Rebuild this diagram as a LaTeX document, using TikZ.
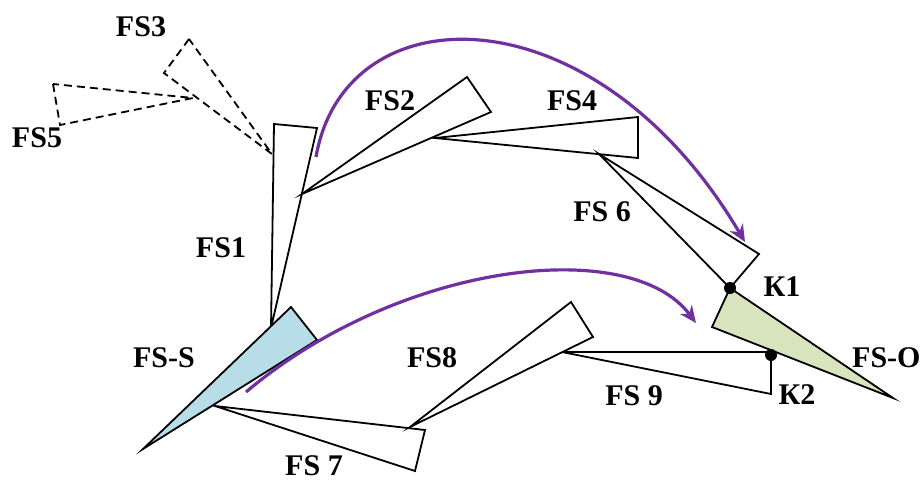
\documentclass[tikz,border=0pt]{standalone}
\usepackage{fontspec}
\setmainfont{Liberation Serif}
\usetikzlibrary{arrows.meta}
\definecolor{arrowpurple}{HTML}{7030A0}
\definecolor{sfill}{HTML}{B7DDE8}
\definecolor{ofill}{HTML}{D7E4BD}
\tikzset{
  fsline/.style={draw=black, line width=1.8pt, line join=miter},
  fsdash/.style={draw=black, line width=1.8pt, dash pattern=on 8pt off 5pt},
  lbl/.style={inner sep=0pt, font=\bfseries\fontsize{30}{36}\selectfont},
  flow/.style={draw=arrowpurple, line width=3.2pt, -{Stealth[length=17pt,width=15pt]}},
  kdot/.style={circle, fill=black, inner sep=0pt, minimum size=12pt}
}
\begin{document}
\begin{tikzpicture}[x=1pt,y=-1pt]
\useasboundingbox (0,0) rectangle (921,482);
% coordinates
\coordinate (s3a) at (189,39); \coordinate (s3b) at (164,73); \coordinate (s3t) at (272,154);
\coordinate (s5a) at (53,84); \coordinate (s5b) at (60,125); \coordinate (s5t) at (193,98);
\coordinate (s1a) at (274,124); \coordinate (s1b) at (317,128); \coordinate (s1t) at (271,328);
\coordinate (s2t) at (302,194); \coordinate (s2a) at (467,77); \coordinate (s2b) at (491,112);
\coordinate (s4t) at (435,138); \coordinate (s4a) at (638,117); \coordinate (s4b) at (638,158);
\coordinate (s6t) at (599,154); \coordinate (s6a) at (759,254); \coordinate (k1) at (730,288);
\coordinate (sob) at (712,327); \coordinate (sot) at (893,398);
\coordinate (s9t) at (562,352); \coordinate (s9a) at (771,352); \coordinate (s9b) at (771,394);
\coordinate (k2) at (771,355);
\coordinate (s8t) at (410,427); \coordinate (s8a) at (571,302); \coordinate (s8b) at (593,337);
\coordinate (s7t) at (215,406); \coordinate (s7a) at (425,430); \coordinate (s7b) at (415,471);
\coordinate (sst) at (143,449); \coordinate (ssa) at (291,307); \coordinate (ssb) at (317,340);
\coordinate (f1s) at (316,157); \coordinate (f1e) at (745,242);
\coordinate (f2s) at (246,392); \coordinate (f2e) at (696,323);
% dashed
\draw[fsdash] (s3a) -- (s3b) -- (s3t) -- cycle;
\draw[fsdash] (s5a) -- (s5b) -- (s5t) -- cycle;
% solid triangles
\draw[fsline, fill=white] (s1a) -- (s1b) -- (s1t) -- cycle;
\draw[fsline, fill=white] (s4t) -- (s4a) -- (s4b) -- cycle;
\draw[fsline, fill=white] (s2t) -- (s2a) -- (s2b) -- cycle;
\draw[fsline, fill=white] (s6t) -- (s6a) -- (k1) -- cycle;
\draw[fsline, fill=white] (s9t) -- (s9a) -- (s9b) -- cycle;
\draw[fsline, fill=ofill] (k1) -- (sob) -- (sot) -- cycle;
\draw[fsline, fill=white] (s7t) -- (s7a) -- (s7b) -- cycle;
\draw[fsline, fill=white] (s8t) -- (s8a) -- (s8b) -- cycle;
\draw[fsline, fill=sfill] (sst) -- (ssa) -- (ssb) -- cycle;
% dots
\node[kdot] (K1dot) at (k1) {};
\node[kdot] (K2dot) at (k2) {};
% arrows
\draw[flow] (f1s) .. controls (345,-10) and (595,-12) .. (f1e);
\draw[flow] (f2s) .. controls (400,262) and (630,235) .. (f2e);
% labels
\node[lbl] (L3) at (141,27) {FS3};
\node[lbl] (L5) at (37,138) {FS5};
\node[lbl] (L2) at (390,101) {FS2};
\node[lbl] (L4) at (572,101) {FS4};
\node[lbl] (L1) at (221,248) {FS1};
\node[lbl] (L6) at (602,212) {FS 6};
\node[lbl] (LK1) at (782,287) {К1};
\node[lbl] (LK2) at (797,395) {К2};
\node[lbl, anchor=west] (LO) at (852,358) {FS-O};
\node[lbl] (L9) at (634,396) {FS 9};
\node[lbl] (L8) at (432,358) {FS8};
\node[lbl] (LS) at (164,358) {FS-S};
\node[lbl] (L7) at (314,466) {FS 7};
\end{tikzpicture}
\end{document}
